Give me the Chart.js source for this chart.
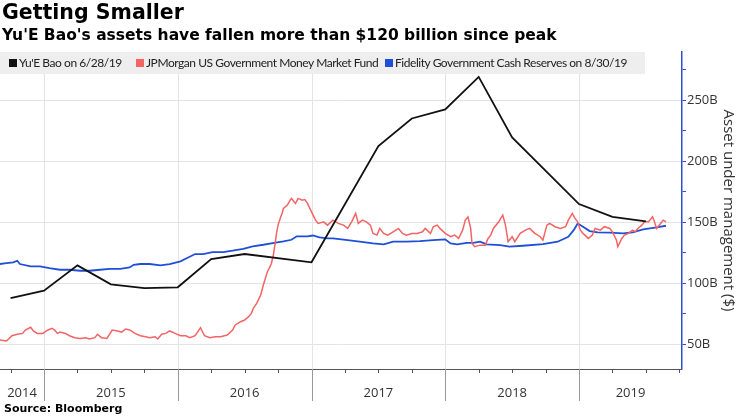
<!DOCTYPE html>
<html>
<head>
<meta charset="utf-8">
<script src="https://cdn.jsdelivr.net/npm/chart.js@4.4.1/dist/chart.umd.min.js"></script>
<style>
body{margin:0;width:740px;height:416px;position:relative;overflow:hidden;background:#fff;}
#c{position:absolute;left:0;top:0;}
#title{position:absolute;left:2px;top:0px;font:bold 20.5px "DejaVu Sans";color:#000;white-space:nowrap;}
#sub{position:absolute;left:2px;top:26px;font:bold 15.5px "DejaVu Sans";color:#000;white-space:nowrap;}
#legend{position:absolute;left:0;top:52px;width:645px;height:22px;background:#eeeeee;font:12px "Lato";color:#222;letter-spacing:-0.45px;}
#legend .it{position:absolute;top:0;line-height:22px;white-space:nowrap;}
#legend .sq{display:inline-block;width:8px;height:8px;margin-right:2px;vertical-align:0px;}
#src{position:absolute;left:4px;top:402px;font:bold 11px "DejaVu Sans";color:#000;}
</style>
</head>
<body>
<canvas id="c" width="740" height="416"></canvas>
<div id="title">Getting Smaller</div>
<div id="sub">Yu'E Bao's assets have fallen more than $120 billion since peak</div>
<div id="legend">
  <div class="it" style="left:9px"><span class="sq" style="background:#111"></span>Yu'E Bao on 6/28/19</div>
  <div class="it" style="left:136px"><span class="sq" style="background:#f46464"></span>JPMorgan US Government Money Market Fund</div>
  <div class="it" style="left:385px"><span class="sq" style="background:#1f4fd6"></span>Fidelity Government Cash Reserves on 8/30/19</div>
</div>
<div id="src">Source: Bloomberg</div>
<script>
// dates as decimal years, values in billions of dollars
const yebX = [2014.75, 2015.0, 2015.25, 2015.5, 2015.75, 2016.0, 2016.25, 2016.5, 2017.0, 2017.5, 2017.75, 2018.0, 2018.25, 2018.5, 2019.0, 2019.25, 2019.5];
const yebY = [87.7, 93.7, 114.5, 98.9, 95.9, 96.5, 119.7, 123.8, 117, 212.3, 235, 242.4, 269.1, 219.4, 164.8, 154.3, 150.6];

const jpmX = [2014.67,2014.72,2014.76,2014.80,2014.84,2014.86,2014.90,2014.92,2014.95,2014.99,
  2015.03,2015.06,2015.08,2015.10,2015.12,2015.16,2015.19,2015.23,2015.27,2015.31,
  2015.34,2015.38,2015.40,2015.43,2015.47,2015.51,2015.55,2015.58,2015.61,2015.64,
  2015.68,2015.72,2015.76,2015.79,2015.83,2015.85,2015.88,2015.91,2015.94,2015.98,
  2016.02,2016.06,2016.09,2016.13,2016.17,2016.20,2016.24,2016.28,2016.32,2016.37,
  2016.41,2016.43,2016.47,2016.50,2016.53,2016.55,2016.565,2016.59,2016.62,2016.64,
  2016.67,2016.69,2016.70,2016.715,2016.73,2016.74,2016.75,2016.77,2016.78,2016.79,
  2016.82,2016.84,2016.85,2016.88,2016.90,2016.93,2016.95,2016.97,2017.00,2017.03,
  2017.05,2017.09,2017.12,2017.16,2017.20,2017.24,2017.27,2017.30,2017.33,2017.35,
  2017.38,2017.41,2017.44,2017.46,2017.49,2017.51,2017.54,2017.57,2017.61,2017.65,
  2017.68,2017.71,2017.75,2017.79,2017.83,2017.85,2017.89,2017.91,2017.94,2017.96,
  2018.00,2018.04,2018.07,2018.10,2018.13,2018.15,2018.17,2018.19,2018.20,2018.22,
  2018.26,2018.30,2018.32,2018.34,2018.36,2018.40,2018.43,2018.45,2018.47,2018.50,
  2018.52,2018.56,2018.60,2018.63,2018.67,2018.71,2018.73,2018.76,2018.78,2018.82,
  2018.86,2018.90,2018.92,2018.95,2018.97,2018.99,2019.01,2019.03,2019.07,2019.10,
  2019.12,2019.16,2019.19,2019.23,2019.25,2019.28,2019.29,2019.32,2019.34,2019.37,
  2019.40,2019.42,2019.44,2019.47,2019.49,2019.52,2019.55,2019.56,2019.58,2019.61,
  2019.63,2019.65];
const jpmY = [53.3,52.5,56.8,58,58.7,61.5,63.7,60.7,58.7,58.7,
  61.5,62.8,61.5,58.7,59.8,58.7,56.8,55.2,54.6,55.2,
  54.1,55.2,58,55.2,54.6,61.5,60.7,59.8,62.3,61.5,
  58.7,56.8,56,55.2,56,54.1,58,58.7,60.7,58.7,
  56.8,56.8,55.2,56.8,63.4,56.8,55.2,56,56,57.4,
  61.5,65.6,68.3,69.7,72.4,75.1,79.2,83.3,90.2,98.4,
  109.3,113.4,116.1,123,133.9,142,147.5,154.3,157.1,161.2,
  163.9,168,169.4,165.3,169.4,168,168.5,165.3,158.4,151.6,
  148.9,150.2,147.5,151.6,148.9,147.5,144.8,150.2,157.1,148.9,
  151.6,150.2,147.5,140.7,139.3,144.8,140.7,139.3,142,144.8,
  140.7,139.3,140.7,140.7,142,144.8,140.7,146.2,147.5,144.8,
  140.7,138,139.3,136.6,143.4,151.6,154.3,144.8,132.5,129.8,
  131.1,131.1,136.6,139.3,144.8,150.2,155.7,147.5,133.9,138,
  133.9,140.7,143.4,144.8,140.7,138,135.2,147.5,148.9,146.2,
  144.8,146.2,151.6,157.1,153,150.2,143.4,140.7,136.6,139.3,
  144.8,143.4,146.2,144.8,142,135.2,129.8,136.6,139.3,140.7,
  143.4,142,144.8,147.5,150.2,150.2,154.3,151.6,144.8,148.9,
  151.6,150.2];

const fidX = [2014.67,2014.72,2014.77,2014.80,2014.82,2014.90,2014.97,2015.04,2015.12,2015.19,
  2015.27,2015.34,2015.42,2015.49,2015.57,2015.64,2015.67,2015.72,2015.79,2015.87,
  2015.94,2016.02,2016.07,2016.13,2016.19,2016.26,2016.34,2016.41,2016.49,2016.56,
  2016.64,2016.71,2016.79,2016.85,2016.89,2016.97,2017.01,2017.06,2017.12,2017.16,
  2017.27,2017.36,2017.46,2017.54,2017.61,2017.71,2017.81,2017.91,2018.00,2018.04,
  2018.09,2018.16,2018.21,2018.26,2018.31,2018.41,2018.48,2018.58,2018.73,2018.84,
  2018.92,2018.96,2018.99,2019.03,2019.08,2019.14,2019.23,2019.33,2019.40,2019.48,
  2019.58,2019.65];
const fidY = [115.6,116.4,117,118.3,115.6,113.7,113.7,112.3,110.9,110.9,
  110.1,110.1,110.9,111.7,111.7,112.8,115,115.6,115.6,114.5,
  115.6,117.8,120.5,123.8,123.8,125.4,125.4,126.5,128.1,130.1,
  131.4,132.8,134.2,135.5,138.3,138.3,139,137.5,136.6,136.6,
  135.2,133.9,132.5,131.7,133.9,133.9,134.4,135.2,135.8,132.5,
  131.7,133,133,133.9,131.7,131.1,129.8,130.6,132,133.9,
  138,143.4,148.9,146.2,142.6,141.6,141.3,140.7,141.6,144,
  145.6,147];

const yearLabels = ['2014','2015','2016','2017','2018','2019'];
const yTicks = [50,75,100,125,150,175,200,225,250,275];
const xMin = 2014.671, xMax = 2019.77;

function pts(xs, ys){ return xs.map(function(x,i){ return {x:x, y:ys[i]}; }); }

const axisDeco = {
  id:'axisDeco',
  beforeDatasetsDraw(chart){
    const ctx = chart.ctx, a = chart.chartArea, x = chart.scales.x;
    ctx.save();
    ctx.strokeStyle = '#e4e4e4'; ctx.lineWidth = 1;
    for (let yr = Math.ceil(xMin); yr <= xMax; yr++){
      const px = Math.round(x.getPixelForValue(yr)) + 0.5;
      ctx.beginPath(); ctx.moveTo(px, a.top); ctx.lineTo(px, a.bottom); ctx.stroke();
    }
    ctx.restore();
  },
  afterDraw(chart){
    const ctx = chart.ctx, a = chart.chartArea, x = chart.scales.x;
    ctx.save();
    ctx.lineWidth = 1;
    ctx.strokeStyle = '#555';
    ctx.beginPath(); ctx.moveTo(a.left, a.bottom + 0.5); ctx.lineTo(a.right, a.bottom + 0.5); ctx.stroke();
    for (let q = Math.ceil(xMin*4); q <= xMax*4; q++){
      const px = Math.round(x.getPixelForValue(q/4)) + 0.5;
      const major = q % 4 === 0;
      ctx.strokeStyle = major ? '#999' : '#555';
      ctx.beginPath(); ctx.moveTo(px, a.bottom); ctx.lineTo(px, a.bottom + (major ? 32 : 4)); ctx.stroke();
    }
    ctx.restore();
  }
};

let myChart = document.getElementById('c').getContext('2d');
let lineChart = new Chart(myChart, {
  type:'line',
  data:{
    datasets:[
      {label:"Yu'E Bao on 6/28/19", data:pts(yebX, yebY), borderColor:'#111', borderWidth:1.8, pointRadius:0, order:0},
      {label:'JPMorgan US Government Money Market Fund', data:pts(jpmX, jpmY), borderColor:'#f46464', borderWidth:1.5, pointRadius:0, order:1},
      {label:'Fidelity Government Cash Reserves on 8/30/19', data:pts(fidX, fidY), borderColor:'#1f4fd6', borderWidth:1.8, pointRadius:0, order:2}
    ]
  },
  options:{
    responsive:false,
    animation:false,
    devicePixelRatio:1,
    layout:{padding:{top:52, left:0, right:0, bottom:0}},
    plugins:{legend:{display:false}, tooltip:{enabled:false}},
    scales:{
      x:{
        type:'linear', min:xMin, max:xMax,
        afterBuildTicks: function(s){
          s.ticks = yearLabels.map(function(l){
            const y = +l;
            return {value:(Math.max(y, xMin) + Math.min(y+1, xMax)) / 2};
          });
        },
        afterFit: function(s){ s.height = 47; s.paddingLeft = 0; s.paddingRight = 0; },
        grid:{display:false, drawTicks:false},
        border:{display:false},
        ticks:{autoSkip:false, maxRotation:0, padding:16, color:'#333',
          font:{size:13, family:'Open Sans'},
          callback: function(v, i){ return yearLabels[i]; }}
      },
      y:{
        type:'linear', position:'right', min:29.5, max:289.5,
        afterBuildTicks: function(s){ s.ticks = yTicks.map(function(v){ return {value:v}; }); },
        afterFit: function(s){ s.width = 58; s.paddingTop = 0; s.paddingBottom = 0; },
        grid:{
          color: function(c){ return c.tick && c.tick.value % 50 === 0 ? '#e4e4e4' : 'rgba(0,0,0,0)'; },
          tickColor:'#2a4fd0', tickLength:4
        },
        border:{color:'#2a4fd0', width:1.5},
        ticks:{padding:1, color:'#333', font:{size:13, family:'Open Sans'},
          callback: function(v){ return v % 50 === 0 ? v + 'B' : ''; }},
        title:{display:true, text:'Asset under management ($)', color:'#333',
          font:{size:15, family:'Open Sans'}, padding:{top:3, bottom:0}}
      }
    }
  },
  plugins:[axisDeco]
});
</script>
</body>
</html>
